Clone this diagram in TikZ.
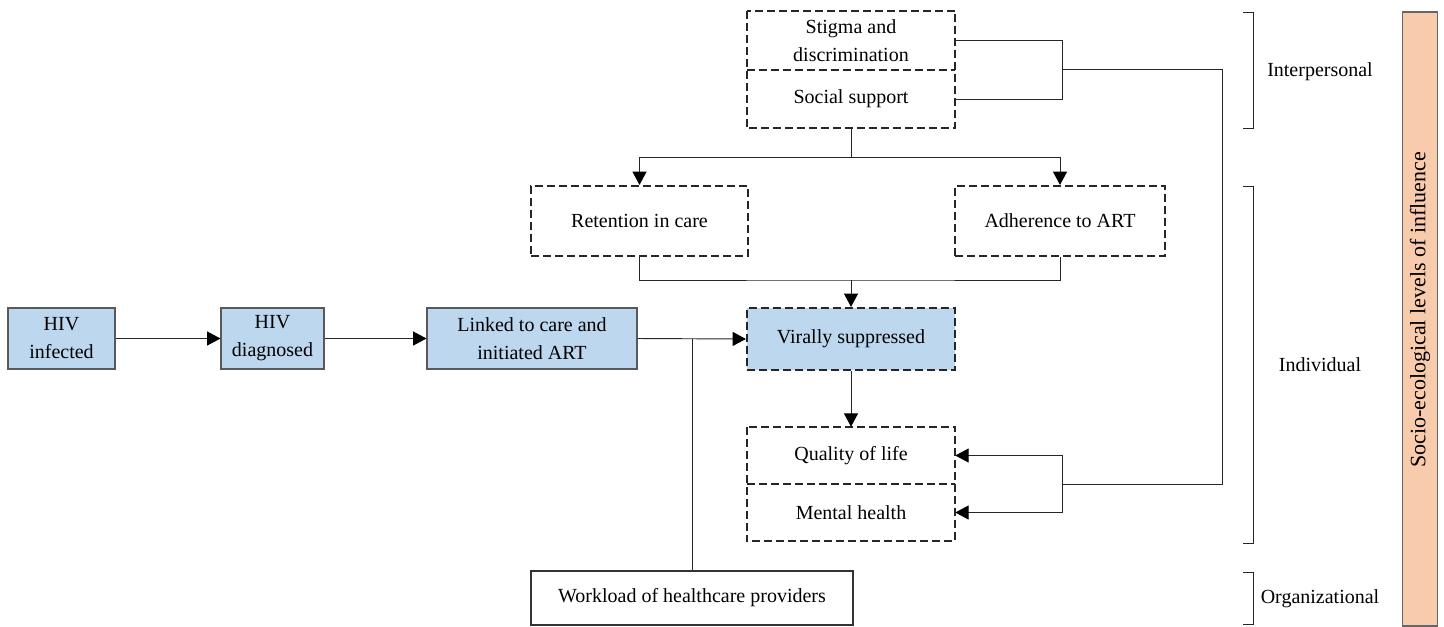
\documentclass[tikz,border=0pt]{standalone}
\usepackage{fontspec}
\setmainfont{Liberation Serif}
\usetikzlibrary{arrows.meta}
\definecolor{boxblue}{RGB}{189,215,238}
\definecolor{bandorange}{RGB}{248,203,173}
\begin{document}
\begin{tikzpicture}[x=0.75pt,y=-0.75pt,
  font=\fontsize{15}{21}\selectfont,
  lbl/.style={align=center, inner sep=0pt},
  bluebox/.style={lbl, draw=black!65, fill=boxblue, line width=0.8pt},
  plainbox/.style={lbl, draw=black!80, fill=white, line width=0.8pt},
  dbox/.style={lbl, draw=black!85, dash pattern=on 6pt off 3pt, line width=1.6pt},
  dline/.style={draw=black!85, dash pattern=on 6pt off 3pt, line width=1.6pt},
  conn/.style={line width=0.7pt, draw=black!85},
  arr/.style={conn, -{Triangle[length=10pt,width=10.5pt,color=black]}},
  band/.style={draw=black!60, fill=bandorange, line width=0.8pt, minimum width=26.5pt, minimum height=460.5pt, inner sep=0pt}
]
\useasboundingbox (0,0) rectangle (1444,626);

% blue pipeline
\node[bluebox, minimum width=80.25pt, minimum height=45.75pt] (inf) at (61.5,338.5) {HIV\\infected};
\node[bluebox, minimum width=77.25pt, minimum height=45.75pt] (diag) at (272.5,338.5) {HIV\\diagnosed};
\node[bluebox, minimum width=157.5pt, minimum height=45.75pt] (link) at (532,338.5) {Linked to care and\\initiated ART};
\node[dbox, fill=boxblue, minimum width=156pt, minimum height=46.5pt] (vir) at (851,339) {Virally suppressed};

% top pair
\node[lbl, minimum width=156pt, minimum height=44.25pt] (stig) at (851,40.5) {Stigma and\\discrimination};
\node[lbl, minimum width=156pt, minimum height=43.5pt] (soc) at (851,99) {Social support};
\draw[dline] (stig.north west) rectangle (soc.south east);
\draw[dline] (stig.south west) -- (stig.south east);

% middle
\node[dbox, minimum width=162.75pt, minimum height=52.5pt] (ret) at (639.5,221) {Retention in care};
\node[dbox, minimum width=157.5pt, minimum height=52.5pt] (adh) at (1060,221) {Adherence to ART};

% bottom pair
\node[lbl, minimum width=156pt, minimum height=42.75pt] (qol) at (851,455.5) {Quality of life};
\node[lbl, minimum width=156pt, minimum height=42.75pt] (mh) at (851,512.5) {Mental health};
\draw[dline] (qol.north west) rectangle (mh.south east);
\draw[dline] (qol.south west) -- (qol.south east);

% workload
\node[plainbox, minimum width=241.5pt, minimum height=40.5pt] (work) at (692,598) {Workload of healthcare providers};

% connectors
\draw[arr] (inf.east) -- (diag.west);
\draw[arr] (diag.east) -- (link.west);
\draw[arr] (link.east) -- (vir.west);
\draw[conn] (work.north) -- (work.north |- link.east);

\coordinate (s1) at (851,157);
\draw[conn] (soc.south) -- (s1);
\draw[arr] (s1) -| (ret.north);
\draw[arr] (s1) -| (adh.north);

\coordinate (m1) at (851,280);
\draw[conn] (ret.south) |- (m1) -| (adh.south);
\draw[arr] (m1) -- (vir.north);
\draw[arr] (vir.south) -- (qol.north);

\coordinate (j1) at (1062,69);
\coordinate (r1) at (1222,69);
\coordinate (r2) at (1222,484);
\coordinate (j2) at (1062,484);
\draw[conn] (stig.east) -| (j1) |- (soc.east);
\draw[conn] (j1) -- (r1) -- (r2) -- (j2);
\draw[arr] (j2) |- (qol.east);
\draw[arr] (j2) |- (mh.east);

% brackets
\draw[conn] (1243,12) -- (1253,12) -- (1253,128) -- (1243,128);
\draw[conn] (1243,186) -- (1253,186) -- (1253,543) -- (1243,543);
\draw[conn] (1243,572) -- (1253,572) -- (1253,624) -- (1243,624);
\node[lbl] (linter) at (1320,72) {Interpersonal};
\node[lbl] (lind) at (1320,365) {Individual};
\node[lbl] (lorg) at (1320,599) {Organizational};

% band
\node[band] (bandbox) at (1420,319) {};
\node[lbl, rotate=90, font=\fontsize{16.5}{20}\selectfont] (bandtext) at (1420,310) {Socio-ecological levels of influence};
\end{tikzpicture}
\end{document}
